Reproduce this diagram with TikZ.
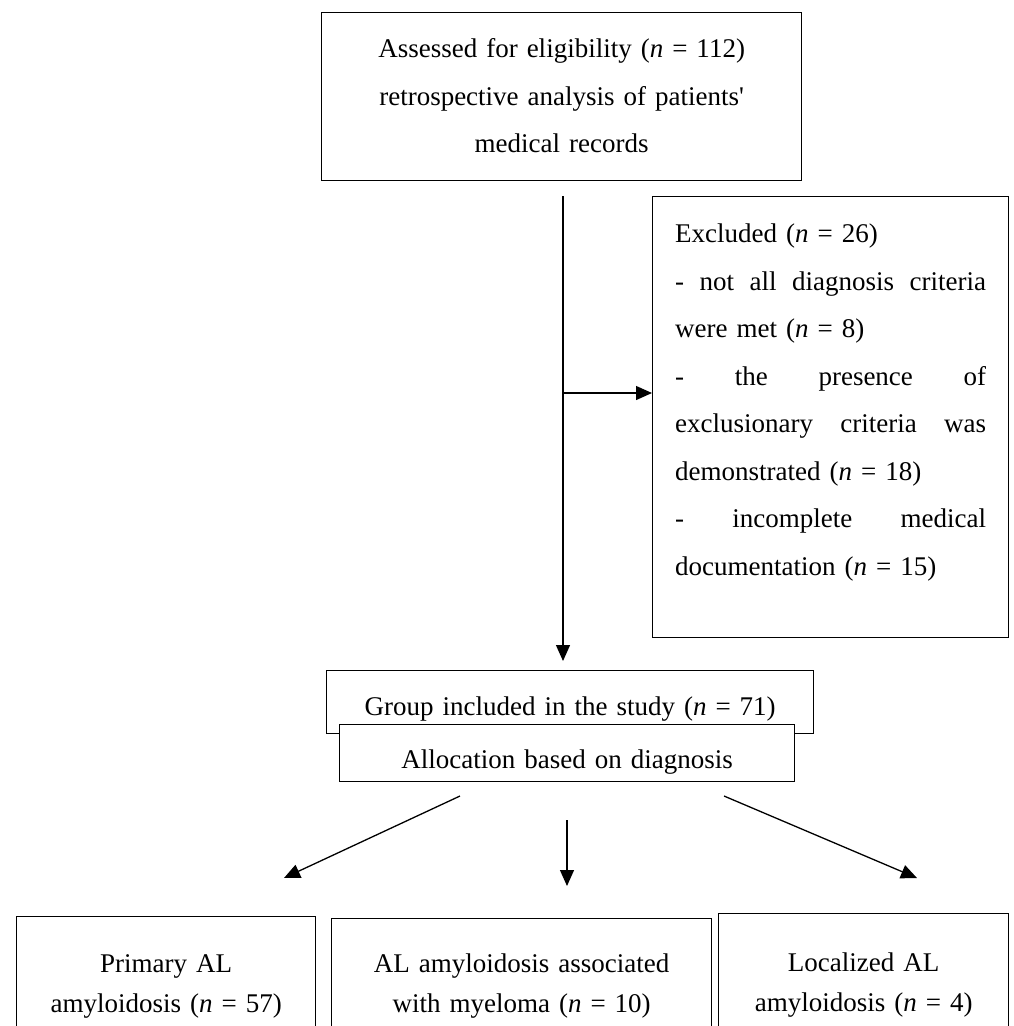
\documentclass[tikz,border=0pt]{standalone}
\usepackage{fontspec}
\setmainfont{Liberation Serif}
\usetikzlibrary{arrows.meta}
\newcommand\flowfont{\fontsize{27}{47.5}\selectfont}
\newcommand\lowfont{\fontsize{27}{40}\selectfont}
\newcommand\jline[1]{\leavevmode\hbox to 311pt{#1}}
\begin{document}
\begin{tikzpicture}[x=1pt,y=-1pt,
  box/.style={draw, line width=1.3pt, rectangle, fill=white, inner xsep=0pt, inner ysep=0pt,
    align=center, anchor=north west, font=\flowfont},
  arr/.style={line width=1.3pt, -{Triangle[length=16pt,width=14pt]}}]
\useasboundingbox (0,0) rectangle (1013,1026);
\clip (0,0) rectangle (1013,1026);

% top box
\node[box, text width=480pt, text height=45pt, text depth=123pt] (assess) at (321,12)
  {Assessed for eligibility (\textit{n} = 112)\\
   retrospective analysis of patients\textquotesingle\\
   medical records};

% excluded box
\node[box, align=left, inner xsep=22.5pt, text width=311pt, text height=46pt, text depth=395pt] (excl) at (652,196)
  {Excluded (\textit{n} = 26)\\
   \jline{-\hfill not\hfill all\hfill diagnosis\hfill criteria}\\
   were met (\textit{n} = 8)\\
   \jline{-\hfill the\hfill presence\hfill of}\\
   \jline{exclusionary\hfill criteria\hfill was}\\
   demonstrated (\textit{n} = 18)\\
   \jline{-\hfill incomplete\hfill medical}\\
   documentation (\textit{n} = 15)};

% group and allocation
\node[box, text width=487pt, text height=45pt, text depth=18pt] (group) at (326,670)
  {Group included in the study (\textit{n} = 71)};
\node[box, text width=455pt, text height=44pt, text depth=13pt] (alloc) at (339,724)
  {Allocation based on diagnosis};

% bottom boxes
\node[box, font=\lowfont, text width=299pt, text height=56pt, text depth=82pt] (prim) at (16,916)
  {Primary AL\\ amyloidosis (\textit{n} = 57)};
\node[box, font=\lowfont, text width=380pt, text height=54pt, text depth=82pt] (myel) at (331,918)
  {AL amyloidosis associated\\ with myeloma (\textit{n} = 10)};
\node[box, font=\lowfont, text width=290pt, text height=58pt, text depth=82pt] (loc) at (718,913)
  {Localized AL\\ amyloidosis (\textit{n} = 4)};

% connectors
\coordinate (vs) at (563,196);
\coordinate (ve) at (563,661);
\draw[arr] (vs) -- (ve);
\coordinate (hs) at (563,393);
\draw[arr] (hs) -- (hs -| excl.west);

\coordinate (d1s) at (460,796);
\coordinate (d1e) at (284,878);
\draw[arr] (d1s) -- (d1e);
\coordinate (d2s) at (567,820);
\coordinate (d2e) at (567,886);
\draw[arr] (d2s) -- (d2e);
\coordinate (d3s) at (724,796);
\coordinate (d3e) at (917,878);
\draw[arr] (d3s) -- (d3e);
\end{tikzpicture}
\end{document}
